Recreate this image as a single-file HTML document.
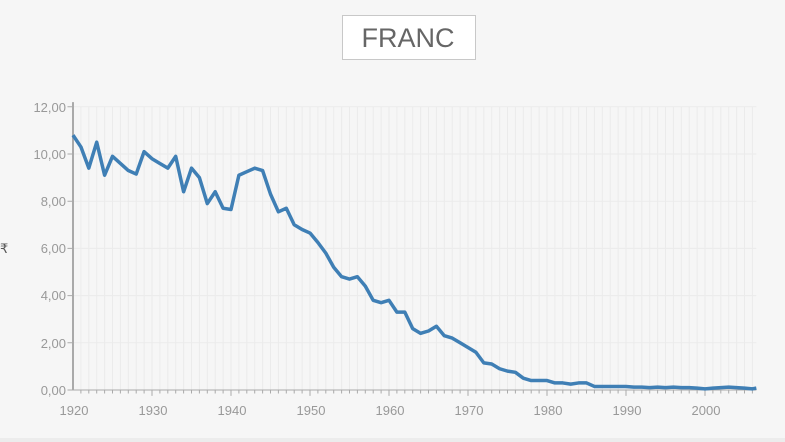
<!DOCTYPE html>
<html><head><meta charset="utf-8"><style>
body{margin:0;background:#f6f6f6;font-family:"Liberation Sans",sans-serif;}
</style></head><body>
<svg width="785" height="442" xmlns="http://www.w3.org/2000/svg" style="display:block">
<rect width="785" height="442" fill="#f6f6f6"/>
<rect x="0" y="438" width="785" height="4" fill="#ececec"/>
<rect x="342.5" y="15.5" width="133" height="44" fill="#fff" stroke="#c8c8c8"/>
<text x="408" y="47" text-anchor="middle" font-size="27" fill="#666">FRANC</text>
<g transform="translate(73,390) scale(7.9,-23.6)" fill="none">
<path vector-effect="non-scaling-stroke" stroke="#ebebeb" d="M1,0V12M2,0V12M3,0V12M4,0V12M5,0V12M6,0V12M7,0V12M8,0V12M9,0V12M10,0V12M11,0V12M12,0V12M13,0V12M14,0V12M15,0V12M16,0V12M17,0V12M18,0V12M19,0V12M20,0V12M21,0V12M22,0V12M23,0V12M24,0V12M25,0V12M26,0V12M27,0V12M28,0V12M29,0V12M30,0V12M31,0V12M32,0V12M33,0V12M34,0V12M35,0V12M36,0V12M37,0V12M38,0V12M39,0V12M40,0V12M41,0V12M42,0V12M43,0V12M44,0V12M45,0V12M46,0V12M47,0V12M48,0V12M49,0V12M50,0V12M51,0V12M52,0V12M53,0V12M54,0V12M55,0V12M56,0V12M57,0V12M58,0V12M59,0V12M60,0V12M61,0V12M62,0V12M63,0V12M64,0V12M65,0V12M66,0V12M67,0V12M68,0V12M69,0V12M70,0V12M71,0V12M72,0V12M73,0V12M74,0V12M75,0V12M76,0V12M77,0V12M78,0V12M79,0V12M80,0V12M81,0V12M82,0V12M83,0V12M84,0V12M85,0V12M86,0V12M0,2H86.5M0,4H86.5M0,6H86.5M0,8H86.5M0,10H86.5M0,12H86.5"/>
<path vector-effect="non-scaling-stroke" stroke="#aaa" d="M0,0H86.5M10,0V-0.25M20,0V-0.25M30,0V-0.25M40,0V-0.25M50,0V-0.25M60,0V-0.25M70,0V-0.25M80,0V-0.25M1,0V-0.15M2,0V-0.15M3,0V-0.15M4,0V-0.15M5,0V-0.15M6,0V-0.15M7,0V-0.15M8,0V-0.15M9,0V-0.15M11,0V-0.15M12,0V-0.15M13,0V-0.15M14,0V-0.15M15,0V-0.15M16,0V-0.15M17,0V-0.15M18,0V-0.15M19,0V-0.15M21,0V-0.15M22,0V-0.15M23,0V-0.15M24,0V-0.15M25,0V-0.15M26,0V-0.15M27,0V-0.15M28,0V-0.15M29,0V-0.15M31,0V-0.15M32,0V-0.15M33,0V-0.15M34,0V-0.15M35,0V-0.15M36,0V-0.15M37,0V-0.15M38,0V-0.15M39,0V-0.15M41,0V-0.15M42,0V-0.15M43,0V-0.15M44,0V-0.15M45,0V-0.15M46,0V-0.15M47,0V-0.15M48,0V-0.15M49,0V-0.15M51,0V-0.15M52,0V-0.15M53,0V-0.15M54,0V-0.15M55,0V-0.15M56,0V-0.15M57,0V-0.15M58,0V-0.15M59,0V-0.15M61,0V-0.15M62,0V-0.15M63,0V-0.15M64,0V-0.15M65,0V-0.15M66,0V-0.15M67,0V-0.15M68,0V-0.15M69,0V-0.15M71,0V-0.15M72,0V-0.15M73,0V-0.15M74,0V-0.15M75,0V-0.15M76,0V-0.15M77,0V-0.15M78,0V-0.15M79,0V-0.15M81,0V-0.15M82,0V-0.15M83,0V-0.15M84,0V-0.15M85,0V-0.15M86,0V-0.15"/>
<path vector-effect="non-scaling-stroke" stroke="#aaa" stroke-width="2" d="M0,0V12.2"/>
<path vector-effect="non-scaling-stroke" stroke="#aaa" d="M0,0H-0.7M0,2H-0.7M0,4H-0.7M0,6H-0.7M0,8H-0.7M0,10H-0.7M0,12H-0.7"/>
<polyline vector-effect="non-scaling-stroke" stroke="#3f7fb5" stroke-width="3.5" stroke-linejoin="round" points="0,10.8 1,10.3 2,9.4 3,10.5 4,9.1 5,9.9 6,9.6 7,9.3 8,9.15 9,10.1 10,9.8 11,9.6 12,9.4 13,9.9 14,8.4 15,9.4 16,9.0 17,7.9 18,8.4 19,7.7 20,7.65 21,9.1 22,9.25 23,9.4 24,9.3 25,8.3 26,7.55 27,7.7 28,7.0 29,6.8 30,6.65 31,6.25 32,5.8 33,5.2 34,4.8 35,4.7 36,4.8 37,4.4 38,3.8 39,3.7 40,3.8 41,3.3 42,3.3 43,2.6 44,2.4 45,2.5 46,2.7 47,2.3 48,2.2 49,2.0 50,1.8 51,1.6 52,1.15 53,1.1 54,0.9 55,0.8 56,0.75 57,0.5 58,0.4 59,0.4 60,0.4 61,0.3 62,0.3 63,0.25 64,0.3 65,0.3 66,0.15 67,0.15 68,0.15 69,0.15 70,0.15 71,0.12 72,0.12 73,0.1 74,0.12 75,0.1 76,0.12 77,0.1 78,0.1 79,0.08 80,0.05 81,0.08 82,0.1 83,0.12 84,0.1 85,0.08 86,0.05 86.5,0.08"/>
</g>
<g font-size="13" fill="#999" text-anchor="end">
<text x="66" y="112">12,00</text><text x="66" y="159">10,00</text><text x="66" y="206">8,00</text>
<text x="66" y="253">6,00</text><text x="66" y="300">4,00</text><text x="66" y="348">2,00</text><text x="66" y="395">0,00</text>
</g>
<g font-size="13" fill="#999" text-anchor="middle">
<text x="74" y="415">1920</text><text x="153" y="415">1930</text><text x="232" y="415">1940</text><text x="311" y="415">1950</text>
<text x="390" y="415">1960</text><text x="469" y="415">1970</text><text x="548" y="415">1980</text><text x="627" y="415">1990</text><text x="706" y="415">2000</text>
</g>
<text x="0" y="253" font-size="13" fill="#555">₹</text>
</svg>
</body></html>
